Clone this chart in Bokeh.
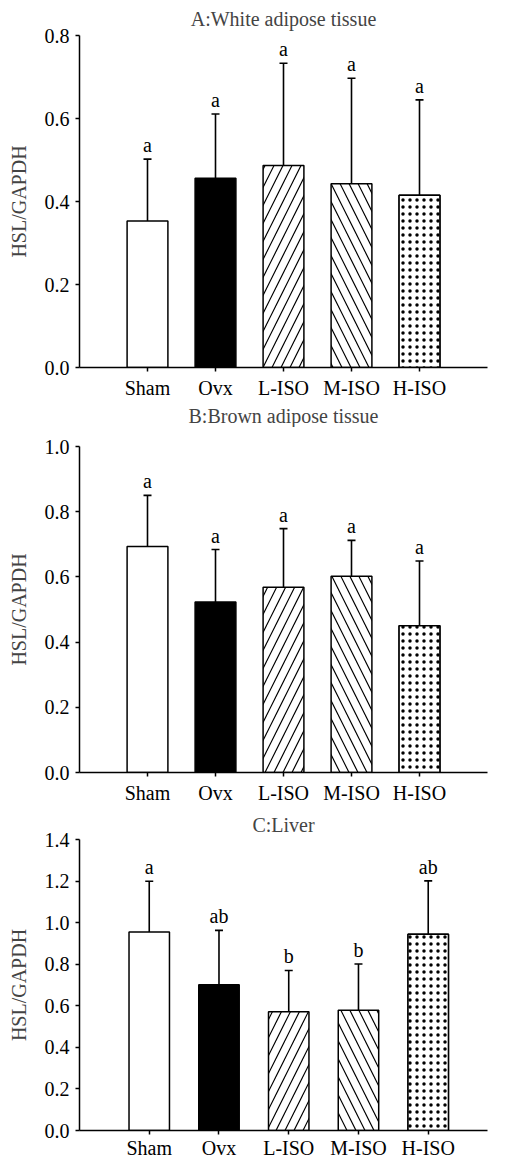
from bokeh.plotting import figure
from bokeh.layouts import column
from bokeh.models import (ColumnDataSource, FixedTicker, PrintfTickFormatter, Range1d,
                          Whisker, TeeHead, Title)
from bokeh.core.properties import value
from bokeh.embed import file_html
from bokeh.resources import INLINE

groups = ["Sham", "Ovx", "L-ISO", "M-ISO", "H-ISO"]
fills = ["white", "black", "white", "white", "white"]
hatches = [" ", " ", "/", "\\", " "]

wat_mean = [0.353, 0.456, 0.487, 0.443, 0.415]
wat_sd = [0.149, 0.155, 0.246, 0.254, 0.230]
wat_letters = ["a", "a", "a", "a", "a"]
wat_ticks = [0.0, 0.2, 0.4, 0.6, 0.8]

bat_mean = [0.693, 0.523, 0.568, 0.602, 0.450]
bat_sd = [0.157, 0.161, 0.180, 0.110, 0.199]
bat_letters = ["a", "a", "a", "a", "a"]
bat_ticks = [0.0, 0.2, 0.4, 0.6, 0.8, 1.0]

liver_mean = [0.955, 0.701, 0.571, 0.579, 0.944]
liver_sd = [0.244, 0.262, 0.199, 0.222, 0.257]
liver_letters = ["a", "ab", "b", "b", "ab"]
liver_ticks = [0.0, 0.2, 0.4, 0.6, 0.8, 1.0, 1.2, 1.4]

titles = ["A:White adipose tissue", "B:Brown adipose tissue", "C:Liver"]

FONT = "Liberation Serif"
FS = "20px"


def make_title(text, offset, standoff):
    t = Title(text=text, text_font=FONT, text_font_style="normal", text_font_size=FS,
              align="center", offset=offset, standoff=standoff)
    return t


def panel(means, sds, letters, yticks, x_end, height, b_left, b_right,
          b_top, b_bottom, bar_w, x_standoff):
    xs = list(range(1, len(groups) + 1))
    upper = [m + s for m, s in zip(means, sds)]
    src = ColumnDataSource(dict(x=xs, top=means, upper=upper, fill=fills,
                                hatch=hatches, lab=letters))
    p = figure(width=526, height=height, output_backend="svg", toolbar_location=None,
               x_range=Range1d(0, x_end), y_range=Range1d(yticks[0], yticks[-1]),
               min_border_left=b_left, min_border_right=b_right,
               min_border_top=b_top, min_border_bottom=b_bottom)
    p.outline_line_color = None
    p.xgrid.visible = False
    p.ygrid.visible = False

    p.vbar(x="x", top="top", bottom=0, width=bar_w, source=src, fill_color="fill",
           line_color="black", line_width=1.5, hatch_pattern="hatch",
           hatch_color="black", hatch_scale=18, hatch_weight=1.2)
    p.vbar(x=[xs[4]], top=[means[4]], bottom=0, width=bar_w, fill_color="white",
           line_color="black", line_width=1.5, hatch_pattern=".",
           hatch_color="black", hatch_scale=7, hatch_weight=0.6)
    p.add_layout(Whisker(base="x", upper="upper", lower="top", source=src,
                         line_color="black", line_width=1.6,
                         upper_head=TeeHead(size=8, line_width=1.6, line_color="black"),
                         lower_head=None))
    p.text(x="x", y="upper", text="lab", source=src, text_align="center",
           text_baseline="bottom", y_offset=-3, text_font=value(FONT),
           text_font_size=FS, text_color="black")

    for ax in (p.xaxis[0], p.yaxis[0]):
        ax.axis_line_width = 1.5
        ax.axis_line_color = "black"
        ax.major_tick_line_color = "black"
        ax.major_tick_line_width = 1.5
        ax.major_tick_in = 0
        ax.major_tick_out = 4
        ax.minor_tick_line_color = None
        ax.major_label_text_font = FONT
        ax.major_label_text_font_size = FS
        ax.major_label_text_color = "black"
    p.xaxis.ticker = FixedTicker(ticks=xs)
    p.xaxis.major_label_overrides = {x: g for x, g in zip(xs, groups)}
    p.xaxis.major_label_standoff = x_standoff
    p.yaxis.ticker = FixedTicker(ticks=yticks)
    p.yaxis.formatter = PrintfTickFormatter(format="%.1f")
    p.yaxis.major_label_standoff = 6
    p.yaxis.axis_label = "HSL/GAPDH"
    p.yaxis.axis_label_text_font = FONT
    p.yaxis.axis_label_text_font_style = "normal"
    p.yaxis.axis_label_text_font_size = FS
    p.yaxis.axis_label_standoff = 12
    return p


pa = panel(wat_mean, wat_sd, wat_letters, wat_ticks, 6.0, 427, 77, 39, 34, 58, 0.6, 5)
pa.add_layout(make_title(titles[0], -42, 11), "above")
pa.add_layout(make_title(titles[1], -32, 2), "below")

pb = panel(bat_mean, bat_sd, bat_letters, bat_ticks, 6.0, 380, 78, 27, 19, 35, 0.6, 5)

pc = panel(liver_mean, liver_sd, liver_letters, liver_ticks, 5.85, 354, 79, 6, 31, 29, 0.58, 2)
pc.add_layout(make_title(titles[2], -35, 8), "above")

layout = column(pa, pb, pc, spacing=0)
open("out.html", "w").write(file_html(layout, INLINE))
